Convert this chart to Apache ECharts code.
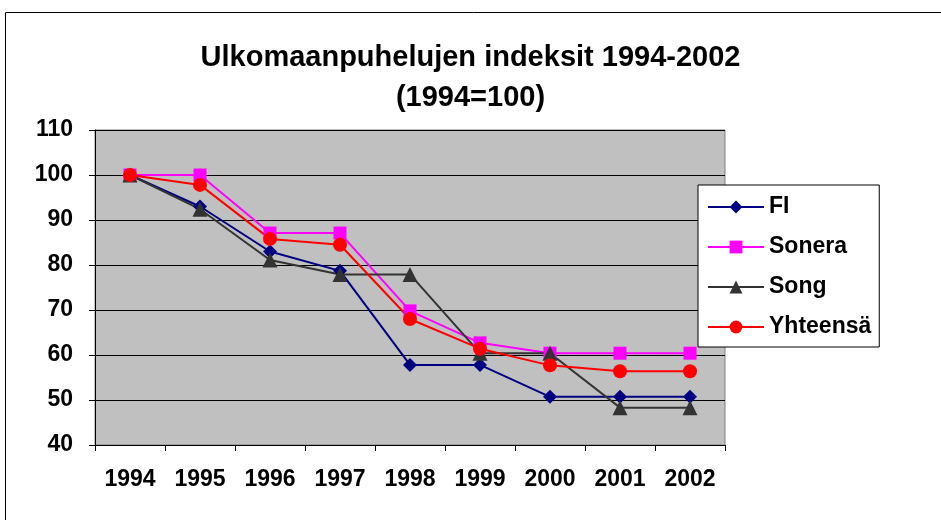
<!DOCTYPE html>
<html>
<head>
<meta charset="utf-8">
<script src="https://cdn.jsdelivr.net/npm/echarts@6/dist/echarts.min.js"></script>
<style>
    html, body { margin: 0; padding: 0; background: #fff; }
    #chart { width: 941px; height: 520px; }
</style>
</head>
<body>
<div id="chart"></div>
<script type="text/javascript">
    // vuodet ja indeksit (1994=100)
    var years = ['1994', '1995', '1996', '1997', '1998', '1999', '2000', '2001', '2002'];
    var fiData = [100, 93, 83, 78.7, 57.8, 57.8, 50.7, 50.7, 50.7];
    var soneraData = [100, 100, 87.1, 87.1, 69.8, 62.7, 60.4, 60.4, 60.4];
    var songData = [100, 92.4, 81.1, 77.9, 77.9, 60.4, 60.4, 48.3, 48.3];
    var yhteensaData = [100, 97.8, 85.8, 84.5, 68, 61.4, 57.7, 56.4, 56.4];

    var fontFam = '"Liberation Sans", Arial, sans-serif';

    function lineSeries(name, data, color, symbol, size) {
        return {
            name: name,
            type: 'line',
            data: data,
            symbol: symbol,
            symbolSize: size,
            lineStyle: { color: color, width: 2 },
            itemStyle: { color: color },
            animation: false
        };
    }

    var myChart = echarts.init(document.getElementById('chart'));
    var option = {
        backgroundColor: '#fff',
        title: {
            text: 'Ulkomaanpuhelujen indeksit 1994-2002\n(1994=100)',
            left: 'center',
            top: 38,
            padding: 0,
            textStyle: { fontFamily: fontFam, fontSize: 29, fontWeight: 'bold', color: '#000', lineHeight: 40 }
        },
        graphic: [{
            type: 'rect',
            shape: { x: 5.5, y: 12.5, width: 1000, height: 600 },
            style: { fill: 'none', stroke: '#000', lineWidth: 1 },
            silent: true
        }],
        legend: {
            orient: 'vertical',
            left: 698,
            top: 185,
            padding: [9, 8, 7, 9],
            itemWidth: 56,
            itemHeight: 16,
            itemGap: 14,
            backgroundColor: '#fff',
            borderColor: '#000',
            borderWidth: 1,
            textStyle: { fontFamily: fontFam, fontSize: 23, fontWeight: 'bold', color: '#000', lineHeight: 26 },
            data: ['FI', 'Sonera', 'Song', 'Yhteensä']
        },
        grid: {
            left: 95,
            top: 130,
            width: 630,
            height: 315,
            show: true,
            backgroundColor: '#C0C0C0',
            borderColor: '#808080',
            borderWidth: 1
        },
        xAxis: {
            type: 'category',
            data: years,
            boundaryGap: true,
            axisLine: { lineStyle: { color: '#000', width: 1 } },
            axisTick: { show: true, interval: 0, length: 6, lineStyle: { color: '#000' } },
            axisLabel: { margin: 23, fontFamily: fontFam, fontSize: 23, fontWeight: 'bold', color: '#000' }
        },
        yAxis: {
            type: 'value',
            min: 40,
            max: 110,
            interval: 10,
            axisLine: { show: true, lineStyle: { color: '#000', width: 1 } },
            axisTick: { show: true, length: 6, lineStyle: { color: '#000' } },
            axisLabel: { margin: 22, fontFamily: fontFam, fontSize: 23, fontWeight: 'bold', color: '#000' },
            splitLine: { show: true, lineStyle: { color: '#000', width: 1 } }
        },
        series: [
            lineSeries('FI', fiData, '#000080', 'diamond', 14),
            lineSeries('Sonera', soneraData, '#FF00FF', 'rect', 13),
            lineSeries('Song', songData, '#333333', 'triangle', 15),
            lineSeries('Yhteensä', yhteensaData, '#FF0000', 'circle', 14)
        ]
    };
    myChart.setOption(option);
</script>
</body>
</html>
